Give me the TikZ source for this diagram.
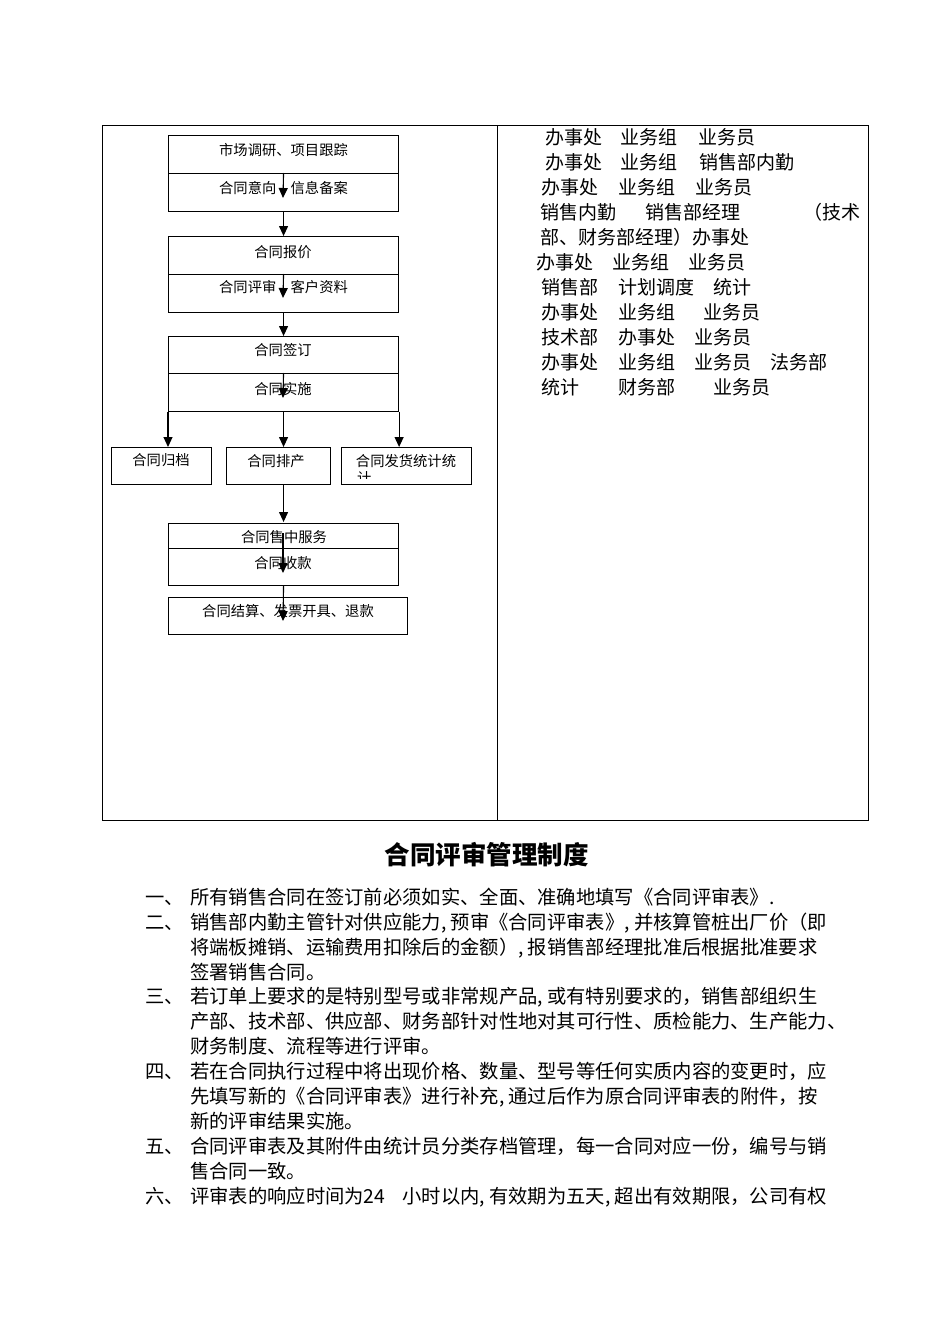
\documentclass[tikz,border=0pt]{standalone}
\usepackage{fontspec}
\setmainfont{Noto Sans CJK SC}
\usetikzlibrary{arrows.meta}
\newcommand\hc{\makebox[0.5em][l]{,}}
\tikzset{
  fbox/.style={draw, line width=1.1pt, inner sep=0pt, anchor=north west},
  ft/.style={inner sep=0pt, font=\fontsize{14.3}{16}\selectfont, text height=12.6pt, text depth=1.7pt},
  arr/.style={line width=1.1pt, -{Triangle[length=10pt,width=9pt]}},
  rt/.style={anchor=west, inner sep=0pt, font=\fontsize{19}{24}\selectfont, text height=16.7pt, text depth=2.3pt},
  bt/.style={anchor=west, inner sep=0pt, font=\fontsize{19.3}{24}\selectfont, text height=17pt, text depth=2.3pt},
}
\begin{document}
\begin{tikzpicture}[x=1pt,y=-1pt]
\useasboundingbox (0,0) rectangle (950,1344);
\fill[white] (0,0) rectangle (950,1344);
% table
\draw[line width=1pt] (102,125) rectangle (868,820);
\draw[line width=1pt] (497,125) -- (497,820);
% flowchart boxes
\node[fbox, minimum width=230pt, minimum height=38pt] (b1) at (168,135) {};
\node[fbox, minimum width=230pt, minimum height=38pt] (b2) at (168,173) {};
\node[fbox, minimum width=230pt, minimum height=38pt] (b3) at (168,236) {};
\node[fbox, minimum width=230pt, minimum height=38pt] (b4) at (168,274) {};
\node[fbox, minimum width=230pt, minimum height=37pt] (b5) at (168,336) {};
\node[fbox, minimum width=230pt, minimum height=38pt] (b6) at (168,373) {};
\node[fbox, minimum width=100pt, minimum height=37pt] (g1) at (111,447) {};
\node[fbox, minimum width=104pt, minimum height=37pt] (g2) at (226,447) {};
\node[fbox, minimum width=130pt, minimum height=37pt] (g3) at (341,447) {};
\node[fbox, minimum width=230pt, minimum height=25pt] (b7) at (168,523) {};
\node[fbox, minimum width=230pt, minimum height=37pt] (b8) at (168,548) {};
\node[fbox, minimum width=239pt, minimum height=37pt] (b9) at (168,597) {};
% flowchart texts
\node[ft] (t1) at (283.5,150) {市场调研、项目跟踪};
\node[ft] (t2) at (283.5,188) {合同意向　信息备案};
\node[ft] (t3) at (283,252) {合同报价};
\node[ft] (t4) at (283.5,287) {合同评审　客户资料};
\node[ft] (t5) at (283,350) {合同签订};
\node[ft] (t6) at (283,389) {合同实施};
\node[ft] (t7) at (161,460) {合同归档};
\node[ft] (t8) at (276,461) {合同排产};
\node[ft] (t9) at (406,461) {合同发货统计统};
\begin{scope}
  \clip (342,448) rectangle (470,478);
  \node[ft, anchor=west] (t9b) at (357,478) {计};
\end{scope}
\node[ft] (t10) at (284,537) {合同售中服务};
\node[ft] (t11) at (283,563) {合同收款};
\node[ft] (t12) at (288,611) {合同结算、发票开具、退款};
% arrows
\coordinate (a1) at (283,198);
\coordinate (a2) at (283,298);
\coordinate (a3) at (283,398);
\coordinate (a4s) at (283,533);
\coordinate (a4) at (283,573);
\coordinate (a5) at (283,621);
\draw[arr] (b2.north) -- (a1);
\draw[arr] (b2.south) -- (b3.north);
\draw[arr] (b4.north) -- (a2);
\draw[arr] (b4.south) -- (b5.north);
\draw[arr] (b6.north) -- (a3);
\draw[arr] (b6.south west) -- (b6.south west |- g1.north);
\draw[arr] (b6.south) -- (b6.south |- g2.north);
\draw[arr] (b6.south east) -- (b6.south east |- g3.north);
\draw[arr] (b6.south |- g2.south) -- ([yshift=1pt]b7.north);
\draw[arr] (a4s) -- (a4);
\draw[arr] (b8.south) -- (a5);
% right column
\foreach \xx/\ll/\tx [count=\i] in {
  545/1/{办事处}, 620/1/{业务组}, 698/1/{业务员},
  545/2/{办事处}, 620/2/{业务组}, 699/2/{销售部内勤},
  541/3/{办事处}, 618/3/{业务组}, 695/3/{业务员},
  540/4/{销售内勤}, 645/4/{销售部经理}, 803/4/{（技术},
  540/5/{部、财务部经理）办事处},
  536/6/{办事处}, 612/6/{业务组}, 688/6/{业务员},
  541/7/{销售部}, 618/7/{计划调度}, 713/7/{统计},
  541/8/{办事处}, 618/8/{业务组}, 703/8/{业务员},
  541/9/{技术部}, 618/9/{办事处}, 694/9/{业务员},
  541/10/{办事处}, 618/10/{业务组}, 694/10/{业务员}, 770/10/{法务部},
  541/11/{统计}, 618/11/{财务部}, 713/11/{业务员}}
  \node[rt] (r\i) at (\xx,{137+25*(\ll-1)}) {\tx};
% title
\node[inner sep=0pt, font=\fontsize{25.5}{28}\selectfont\bfseries, text height=22.4pt, text depth=3.1pt] (title) at (486.5,855) {合同评审管理制度};
% list labels
\foreach \ll/\tx in {1/{一、}, 2/{二、}, 5/{三、}, 8/{四、}, 11/{五、}, 13/{六、}}
  \node[bt] (n\ll) at (145,{897+24.9*(\ll-1)}) {\tx};
% list body
\foreach \ll/\tx in {
  1/{所有销售合同在签订前必须如实、全面、准确地填写《合同评审表》.},
  2/{销售部内勤主管针对供应能力\hc 预审《合同评审表》\hc 并核算管桩出厂价（即},
  3/{将端板摊销、运输费用扣除后的金额）\hc 报销售部经理批准后根据批准要求},
  4/{签署销售合同。},
  5/{若订单上要求的是特别型号或非常规产品\hc 或有特别要求的，销售部组织生},
  6/{产部、技术部、供应部、财务部针对性地对其可行性、质检能力、生产能力、},
  7/{财务制度、流程等进行评审。},
  8/{若在合同执行过程中将出现价格、数量、型号等任何实质内容的变更时，应},
  9/{先填写新的《合同评审表》进行补充\hc 通过后作为原合同评审表的附件，按},
  10/{新的评审结果实施。},
  11/{合同评审表及其附件由统计员分类存档管理，每一合同对应一份，编号与销},
  12/{售合同一致。},
  13/{评审表的响应时间为\makebox[2em][l]{24}小时以内\hc 有效期为五天\hc 超出有效期限，公司有权}}
  \node[bt] (p\ll) at (190,{897+24.9*(\ll-1)}) {\tx};
\end{tikzpicture}
\end{document}
